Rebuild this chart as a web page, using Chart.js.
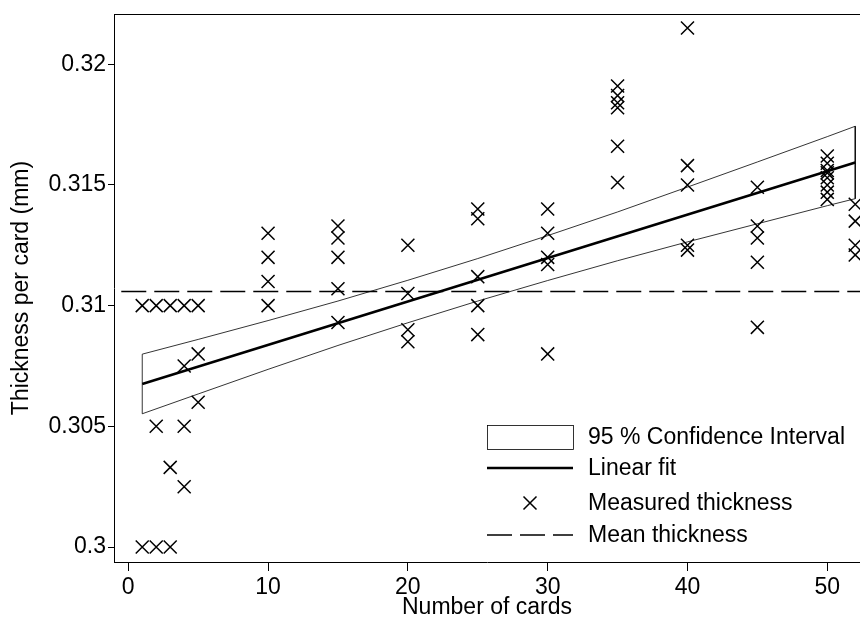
<!DOCTYPE html>
<html><head><meta charset="utf-8">
<script src="https://cdn.jsdelivr.net/npm/chart.js@4"></script>
<style>html,body{margin:0;padding:0;background:#fff;overflow:hidden}#wrap{width:860px;height:622px;position:relative}</style>
</head><body><div id="wrap"><canvas id="c"></canvas></div>
<script>
// Measured data: number of cards and thickness per card (mm)
const cardCounts = [
  1,1, 2,2,2, 3,3,3, 4,4,4,4, 5,5,5,
  10,10,10,10,
  15,15,15,15,15,
  20,20,20,20,
  25,25,25,25,25,
  30,30,30,30,30,
  35,35,35,35,35,35,
  40,40,40,40,40,
  45,45,45,45,45,
  50,50,50,50,50,50,50,50,
  52,52,52,52
];
const thickness = [
  0.310,0.300, 0.310,0.305,0.300, 0.310,0.3033,0.300, 0.310,0.3075,0.305,0.3025, 0.310,0.308,0.306,
  0.313,0.312,0.311,0.310,
  0.3133,0.3128,0.3120,0.3107,0.3093,
  0.3125,0.3105,0.3090,0.3085,
  0.3140,0.3136,0.3112,0.3100,0.3088,
  0.3140,0.3130,0.3120,0.3117,0.3080,
  0.3191,0.3187,0.3184,0.3182,0.3166,0.3151,
  0.3215,0.3158,0.3150,0.3125,0.3123,
  0.3149,0.3133,0.3128,0.3118,0.3091,
  0.3162,0.3159,0.3156,0.3155,0.3153,0.3150,0.3147,0.3144,
  0.3142,0.3135,0.3125,0.3121
];
// Linear fit end points
const fitX = [1, 52];
const fitY = [0.30675, 0.31593];
// 95 % confidence band
const ciX     = [1, 5, 10, 15, 20, 25, 30, 35, 40, 45, 50, 52];
const ciUpper = [0.30799, 0.30860, 0.30938, 0.31019, 0.31105, 0.31195, 0.31290, 0.31388, 0.31491, 0.31595, 0.31700, 0.31743];
const ciLower = [0.30552, 0.30634, 0.30736, 0.30835, 0.30929, 0.31019, 0.31104, 0.31186, 0.31264, 0.31339, 0.31414, 0.31443];
// Mean thickness
const meanThickness = 0.31058;
const meanX = [-0.5, 52.4];
// Axes
const xTicks = [0, 10, 20, 30, 40, 50];
const yTicks = [0.3, 0.305, 0.31, 0.315, 0.32];
const yTickLabels = ['0.3', '0.305', '0.31', '0.315', '0.32'];
const xTitle = 'Number of cards';
const yTitle = 'Thickness per card (mm)';
const legendLabels = ['95 % Confidence Interval', 'Linear fit', 'Measured thickness', 'Mean thickness'];

const FONT = '"Liberation Sans", Arial, Helvetica, sans-serif';
const FS = 23;

const ciPoly = ciX.map((x, i) => ({x, y: ciUpper[i]}))
  .concat(ciX.map((x, i) => ({x, y: ciLower[i]})).reverse())
  .concat([{x: ciX[0], y: ciUpper[0]}]);
const fitLine = fitX.map((x, i) => ({x, y: fitY[i]}));
const meanLine = meanX.map(x => ({x, y: meanThickness}));
const points = cardCounts.map((x, i) => ({x, y: thickness[i]}));

const MARK_R = 9.2;

const framePlugin = {
  id: 'frame',
  afterDatasetsDraw(chart) {
    const {ctx, chartArea: a} = chart;
    ctx.save();
    ctx.strokeStyle = '#000';
    ctx.lineWidth = 1;
    ctx.beginPath();
    ctx.moveTo(a.left, a.top + 0.5);
    ctx.lineTo(a.right, a.top + 0.5);
    ctx.stroke();
    ctx.restore();
  }
};

const legendPlugin = {
  id: 'customLegend',
  afterDraw(chart) {
    const ctx = chart.ctx;
    const x0 = 487, x1 = 573, tx = 588;
    const rows = [437, 468, 503, 535];
    ctx.save();
    ctx.strokeStyle = '#000';
    ctx.fillStyle = '#fff';
    // CI box
    ctx.lineWidth = 0.8;
    ctx.fillRect(x0, 425, x1 - x0, 24);
    ctx.strokeRect(x0 + 0.5, 425.5, x1 - x0, 24);
    // fit line
    ctx.lineWidth = 2.6;
    ctx.beginPath(); ctx.moveTo(x0, rows[1]); ctx.lineTo(x1, rows[1]); ctx.stroke();
    // marker
    ctx.lineWidth = 1.5;
    const d = MARK_R * Math.SQRT1_2;
    const mx = 530, my = rows[2];
    ctx.beginPath();
    ctx.moveTo(mx - d, my - d); ctx.lineTo(mx + d, my + d);
    ctx.moveTo(mx - d, my + d); ctx.lineTo(mx + d, my - d);
    ctx.stroke();
    // mean dashed
    ctx.setLineDash([25, 8]);
    ctx.lineWidth = 1.5;
    ctx.beginPath(); ctx.moveTo(x0, rows[3]); ctx.lineTo(x1, rows[3]); ctx.stroke();
    ctx.setLineDash([]);
    // text
    ctx.fillStyle = '#000';
    ctx.font = FS + 'px ' + FONT;
    ctx.textBaseline = 'middle';
    ctx.textAlign = 'left';
    legendLabels.forEach((t, i) => ctx.fillText(t, tx, rows[i] + 1));
    ctx.restore();
  }
};

new Chart(document.getElementById('c'), {
  type: 'scatter',
  data: {
    datasets: [
      {label: legendLabels[0], data: ciPoly, showLine: true, borderColor: '#000', borderWidth: 0.8,
       pointRadius: 0, fill: false, tension: 0},
      {label: legendLabels[3], data: meanLine, showLine: true, borderColor: '#000', borderWidth: 1.5,
       borderDash: [25, 8], pointRadius: 0, fill: false},
      {label: legendLabels[1], data: fitLine, showLine: true, borderColor: '#000', borderWidth: 2.6,
       pointRadius: 0, fill: false},
      {label: legendLabels[2], data: points, showLine: false, pointStyle: 'crossRot', pointRadius: MARK_R,
       pointBorderWidth: 1.5, borderColor: '#000', backgroundColor: 'rgba(0,0,0,0)', pointBorderColor: '#000'}
    ]
  },
  options: {
    animation: false,
    responsive: true,
    maintainAspectRatio: false,
    devicePixelRatio: 1,
    events: [],
    layout: {autoPadding: false, padding: {top: 14, right: 0, left: 0, bottom: 0}},
    plugins: {legend: {display: false}, tooltip: {enabled: false}},
    scales: {
      x: {
        type: 'linear', min: -1.02, max: 52.34,
        afterBuildTicks: s => { s.ticks = xTicks.map(v => ({value: v})); },
        afterFit: s => { s.height = 60; s.paddingLeft = 0; s.paddingRight = 0; },
        ticks: {color: '#000', font: {family: FONT, size: FS}, padding: 3, maxRotation: 0, autoSkip: false,
                callback: v => String(v)},
        grid: {drawOnChartArea: false, drawTicks: true, tickLength: 9, color: '#000', lineWidth: 1},
        border: {display: true, color: '#000', width: 1},
        title: {display: true, text: xTitle, color: '#000', font: {family: FONT, size: FS}, padding: {top: 0, bottom: 1}}
      },
      y: {
        type: 'linear', min: 0.29938, max: 0.32208,
        afterBuildTicks: s => { s.ticks = yTicks.map(v => ({value: v})); },
        afterFit: s => { s.width = 114; s.paddingTop = 0; s.paddingBottom = 0; },
        ticks: {color: '#000', font: {family: FONT, size: FS}, padding: 2, autoSkip: false,
                callback: (v) => { const i = yTicks.findIndex(t => Math.abs(t - v) < 1e-9); return i >= 0 ? yTickLabels[i] : ''; }},
        grid: {drawOnChartArea: false, drawTicks: true, tickLength: 6, color: '#000', lineWidth: 1},
        border: {display: true, color: '#000', width: 1},
        title: {display: true, text: yTitle, color: '#000', font: {family: FONT, size: FS}, padding: {top: 8, bottom: 0}}
      }
    }
  },
  plugins: [framePlugin, legendPlugin]
});
</script>
</body></html>
